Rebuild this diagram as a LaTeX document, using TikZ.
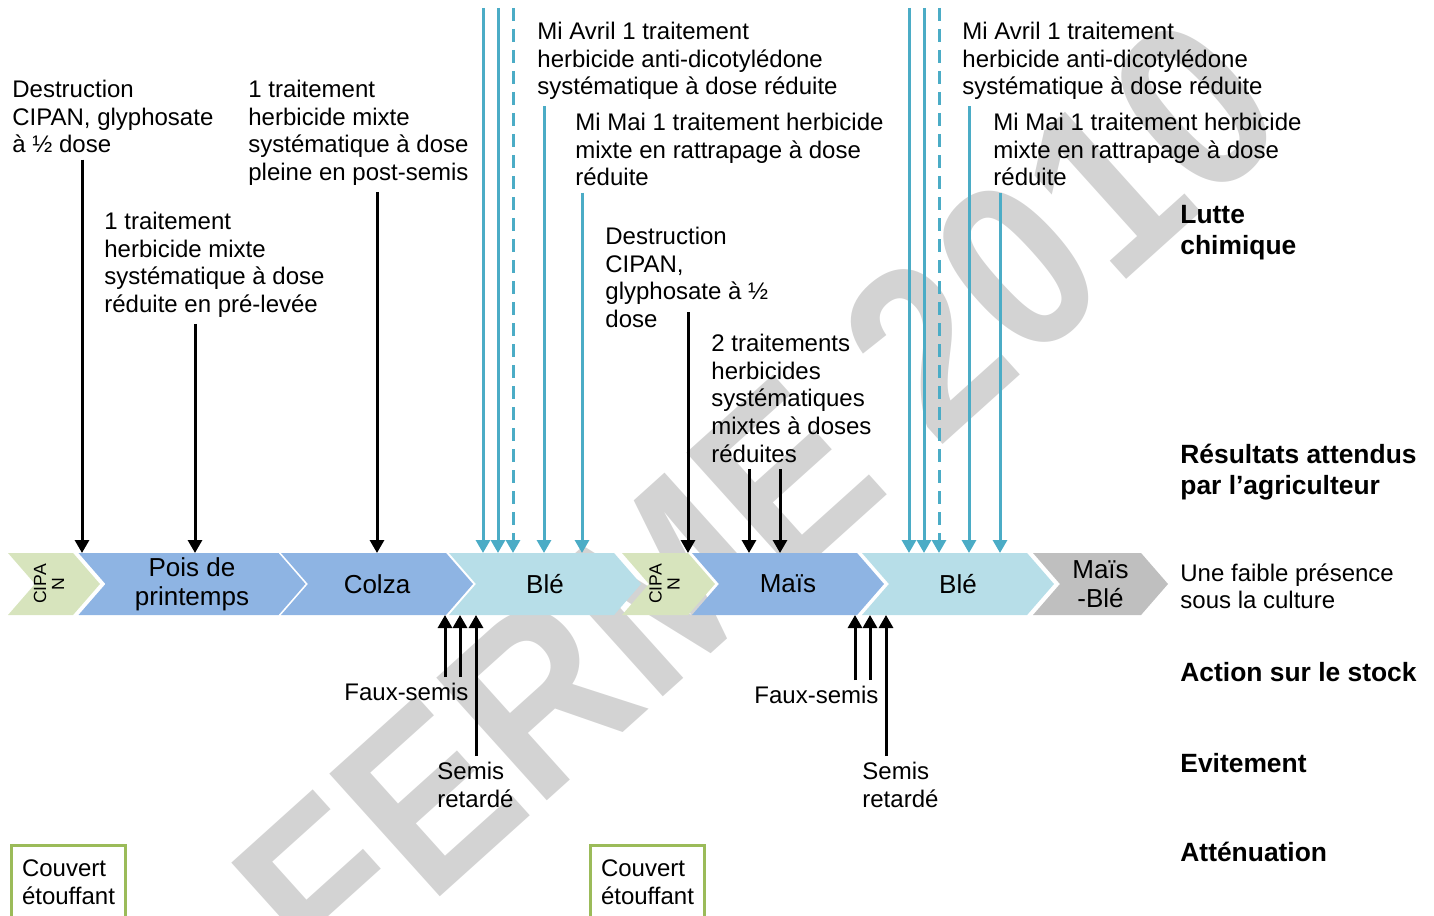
\documentclass[tikz,border=0pt]{standalone}
\usepackage{fontspec}
\setmainfont{Liberation Sans}
\usetikzlibrary{positioning,arrows.meta,shapes.symbols}

\definecolor{vertcipan}{HTML}{D7E4BD}
\definecolor{bleufonce}{HTML}{8EB4E3}
\definecolor{bleuclair}{HTML}{B7DEE8}
\definecolor{grisculture}{HTML}{BFBFBF}
\definecolor{bleufleche}{HTML}{4BACC6}
\definecolor{vertcadre}{HTML}{9BBB59}
\definecolor{grisfiligrane}{HTML}{D3D3D3}

\begin{document}
\begin{tikzpicture}[
x=0.5pt,
y=-0.5pt,
font=\fontsize{12}{13.8}\selectfont,
culture/.style={
    signal,
    signal from=west,
    signal to=east,
    signal pointer angle=98,
    minimum height=31pt,
    inner sep=0pt,
    align=center,
    font=\fontsize{13}{14.5}\selectfont
},
cipan/.style={
    rotate=90,
    align=center,
    inner sep=0pt,
    font=\fontsize{8.8}{9}\selectfont
},
texte/.style={
    anchor=north west,
    inner xsep=0pt,
    inner ysep=3pt,
    align=left
},
titre/.style={
    texte,
    font=\fontsize{13.2}{15.5}\selectfont\bfseries
},
couvert/.style={
    draw=vertcadre,
    line width=1.5pt,
    anchor=north west,
    align=left,
    inner xsep=5pt,
    minimum width=57pt,
    minimum height=37pt
},
fleche/.style={
    -{Triangle[width=7pt,length=6.5pt]},
    line width=1.5pt
},
bleu/.style={
    fleche,
    draw=bleufleche
},
pointille/.style={
    bleu,
    dash pattern=on 6.5pt off 4pt
}
]

\useasboundingbox (0,0) rectangle (1434,915);

% Filigrane
\node[
    rotate=42,
    xscale=0.9,
    text=grisfiligrane,
    font=\fontsize{120}{120}\selectfont\bfseries
] (filigrane) at (758,500) {FERME 2010};

% Rotation des cultures
\node[culture, fill=vertcipan, minimum width=46pt] (cipan1) at (54,584) {};
\node[culture, fill=bleufonce, minimum width=113.5pt] (pois) at (192,584) {Pois de\\printemps};
\node[culture, fill=bleufonce, minimum width=96pt] (colza) at (377,584) {Colza};
\node[culture, fill=bleuclair, minimum width=96pt] (ble1) at (545,584) {Blé};
\node[culture, fill=vertcipan, minimum width=46.5pt] (cipan2) at (668.5,584) {};
\node[culture, fill=bleufonce, minimum width=96pt] (mais) at (788,584) {Maïs};
\node[culture, fill=bleuclair, minimum width=96pt] (ble2) at (958,584) {Blé};
\node[culture, fill=grisculture, minimum width=67.5pt] (maisble) at (1100.5,584) {Maïs\\-Blé};

\node[cipan] (cipantexte1) at ([xshift=-2.5pt]cipan1.center) {CIPA\\N};
\node[cipan] (cipantexte2) at ([xshift=-2pt]cipan2.center) {CIPA\\N};

% Points d'arrivee des fleches
\foreach \x [count=\i] in {82,195,377,688,749,780}
    \coordinate (pn\i) at (\x,553);
\foreach \x [count=\i] in {483,498,513,544,582,909,924,939,969,1000}
    \coordinate (pb\i) at (\x,553);
\foreach \x [count=\i] in {483,498,513,909,924,939}
    \coordinate (haut\i) at (\x,8);
\foreach \x [count=\i] in {445,460,476,855,870,886}
    \coordinate (pu\i) at (\x,615);
\coordinate (destrhaut) at (688,312);

% Interventions chimiques
\node[texte] (destr1) at (12,74) {Destruction\\CIPAN, glyphosate\\à ½ dose};
\node[texte] (prelevee) at (104,206) {1 traitement\\herbicide mixte\\systématique à dose\\réduite en pré-levée};
\node[texte] (postsemis) at (248,74) {1 traitement\\herbicide mixte\\systématique à dose\\pleine en post-semis};
\node[texte] (avril1) at (537,16) {Mi Avril 1 traitement\\herbicide anti-dicotylédone\\systématique à dose réduite};
\node[texte] (mai1) at (575,107) {Mi Mai 1 traitement herbicide\\mixte en rattrapage à dose\\réduite};
\node[texte] (destr2) at (605,221) {Destruction\\CIPAN,\\glyphosate à ½\\dose};
\node[texte] (mixtes) at (711,328) {2 traitements\\herbicides\\systématiques\\mixtes à doses\\réduites};
\node[texte] (avril2) at (962,16) {Mi Avril 1 traitement\\herbicide anti-dicotylédone\\systématique à dose réduite};
\node[texte] (mai2) at (993,107) {Mi Mai 1 traitement herbicide\\mixte en rattrapage à dose\\réduite};

\draw[fleche] (destr1.south -| pn1) -- (pn1);
\draw[fleche] (prelevee.south -| pn2) -- (pn2);
\draw[fleche] (postsemis.south -| pn3) -- (pn3);
\draw[fleche] (destrhaut) -- (pn4);
\draw[fleche] (mixtes.south -| pn5) -- (pn5);
\draw[fleche] (mixtes.south -| pn6) -- (pn6);

\draw[bleu] (haut1) -- (pb1);
\draw[bleu] (haut2) -- (pb2);
\draw[pointille] (haut3) -- (pb3);
\draw[bleu] (avril1.south -| pb4) -- (pb4);
\draw[bleu] (mai1.south -| pb5) -- (pb5);
\draw[bleu] (haut4) -- (pb6);
\draw[bleu] (haut5) -- (pb7);
\draw[pointille] (haut6) -- (pb8);
\draw[bleu] (avril2.south -| pb9) -- (pb9);
\draw[bleu] (mai2.south -| pb10) -- (pb10);

% Interventions mecaniques
\node[texte] (fauxsemis1) at (344,677) {Faux-semis};
\node[texte] (retard1) at (437,756) {Semis\\retardé};
\node[texte] (fauxsemis2) at (754,680) {Faux-semis};
\node[texte] (retard2) at (862,756) {Semis\\retardé};

\draw[fleche] (fauxsemis1.north -| pu1) -- (pu1);
\draw[fleche] (fauxsemis1.north -| pu2) -- (pu2);
\draw[fleche] (retard1.north -| pu3) -- (pu3);
\draw[fleche] (fauxsemis2.north -| pu4) -- (pu4);
\draw[fleche] (fauxsemis2.north -| pu5) -- (pu5);
\draw[fleche] (retard2.north -| pu6) -- (pu6);

% Couverts
\node[couvert] (couvert1) at (10,844) {Couvert\\étouffant};
\node[couvert] (couvert2) at (589,844) {Couvert\\étouffant};

% Legende a droite
\node[titre] (lutte) at (1180,199) {Lutte\\chimique};
\node[titre] (resultats) at (1180,438) {Résultats attendus\\par l’agriculteur};
\node[texte] (presence) at (1180,557) {Une faible présence\\sous la culture};
\node[titre] (stock) at (1180,656) {Action sur le stock};
\node[titre] (evitement) at (1180,747) {Evitement};
\node[titre] (attenuation) at (1180,836) {Atténuation};

\end{tikzpicture}
\end{document}
